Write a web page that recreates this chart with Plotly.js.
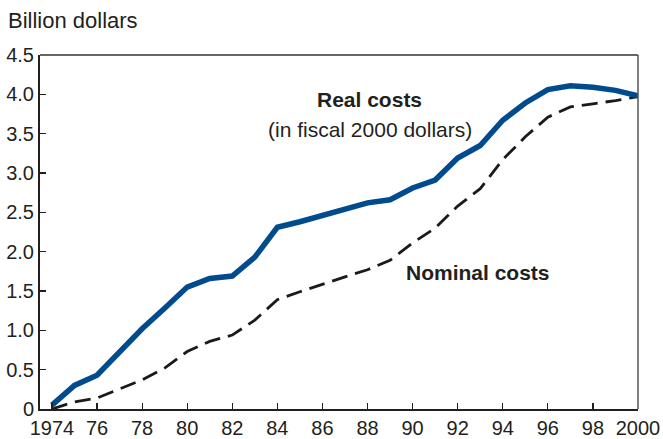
<!DOCTYPE html>
<html>
<head>
<meta charset="utf-8">
<script src="https://cdn.plot.ly/plotly-3.0.1.min.js"></script>
<style>html,body{margin:0;padding:0;background:#fff}#chart{width:663px;height:439px}</style>
</head>
<body>
<div id="chart"></div>
<script>
const years = [1974,1975,1976,1977,1978,1979,1980,1981,1982,1983,1984,1985,1986,1987,1988,1989,1990,1991,1992,1993,1994,1995,1996,1997,1998,1999,2000];
const realCosts = [0.05,0.30,0.43,0.73,1.02,1.28,1.55,1.66,1.69,1.93,2.31,2.38,2.46,2.54,2.62,2.66,2.81,2.91,3.19,3.35,3.67,3.89,4.06,4.11,4.09,4.05,3.98];
const nominalCosts = [0.00,0.09,0.14,0.25,0.37,0.52,0.73,0.86,0.94,1.13,1.39,1.49,1.59,1.68,1.77,1.89,2.11,2.30,2.58,2.80,3.17,3.46,3.71,3.84,3.88,3.92,3.97];
const xTickVals = [1974,1976,1978,1980,1982,1984,1986,1988,1990,1992,1994,1996,1998,2000];
const xTickText = ['1974','76','78','80','82','84','86','88','90','92','94','96','98','2000'];
const yTickVals = [0,0.5,1,1.5,2,2.5,3,3.5,4,4.5];
const yTickText = ['0','0.5','1.0','1.5','2.0','2.5','3.0','3.5','4.0','4.5'];

const font = 'Liberation Sans, Arial, Helvetica, sans-serif';
const txt = '#231f20';

const traces = [
  {x: years, y: nominalCosts, mode: 'lines', line: {color: '#1a1a1a', width: 2.8, dash: '16px,8px'}, hoverinfo: 'none'},
  {x: years, y: realCosts, mode: 'lines', line: {color: '#004b8d', width: 5.5}, hoverinfo: 'none'}
];

const layout = {
  width: 663, height: 439,
  margin: {l: 40, r: 25, t: 55, b: 30},
  paper_bgcolor: '#fff', plot_bgcolor: '#fff',
  showlegend: false,
  font: {family: font, size: 20, color: txt},
  xaxis: {
    range: [1973.47, 2000], tickvals: xTickVals, ticktext: xTickText,
    ticks: 'inside', ticklen: 6, tickwidth: 1.2, tickcolor: txt,
    showline: true, linecolor: txt, linewidth: 2,
    showgrid: false, zeroline: false, fixedrange: true,
    tickfont: {family: font, size: 20, color: txt}
  },
  yaxis: {
    range: [0, 4.5], tickvals: yTickVals, ticktext: yTickText,
    ticks: 'inside', ticklen: 6, tickwidth: 1.2, tickcolor: txt,
    showline: true, linecolor: txt, linewidth: 2,
    showgrid: false, zeroline: false, fixedrange: true,
    tickfont: {family: font, size: 20, color: txt}
  },
  shapes: [
    {type: 'line', xref: 'paper', yref: 'paper', x0: 0, x1: 1, y0: 1, y1: 1, line: {color: '#333', width: 1.5}},
    {type: 'line', xref: 'paper', yref: 'paper', x0: 1, x1: 1, y0: 0, y1: 1, line: {color: '#555', width: 1.5}}
  ],
  annotations: [
    {xref: 'paper', yref: 'paper', x: -0.057, y: 1.098, xanchor: 'left', yanchor: 'middle', text: 'Billion dollars', showarrow: false, font: {family: font, size: 22, color: txt}},
    {xref: 'x', yref: 'y', x: 1988.1, y: 3.93, text: '<b>Real costs</b>', showarrow: false, font: {family: font, size: 21, color: txt}},
    {xref: 'x', yref: 'y', x: 1988.1, y: 3.55, text: '(in fiscal 2000 dollars)', showarrow: false, font: {family: font, size: 21, color: txt}},
    {xref: 'x', yref: 'y', x: 1992.9, y: 1.73, text: '<b>Nominal costs</b>', showarrow: false, font: {family: font, size: 21, color: txt}}
  ]
};

Plotly.newPlot('chart', traces, layout, {displayModeBar: false, staticPlot: true});
</script>
</body>
</html>
